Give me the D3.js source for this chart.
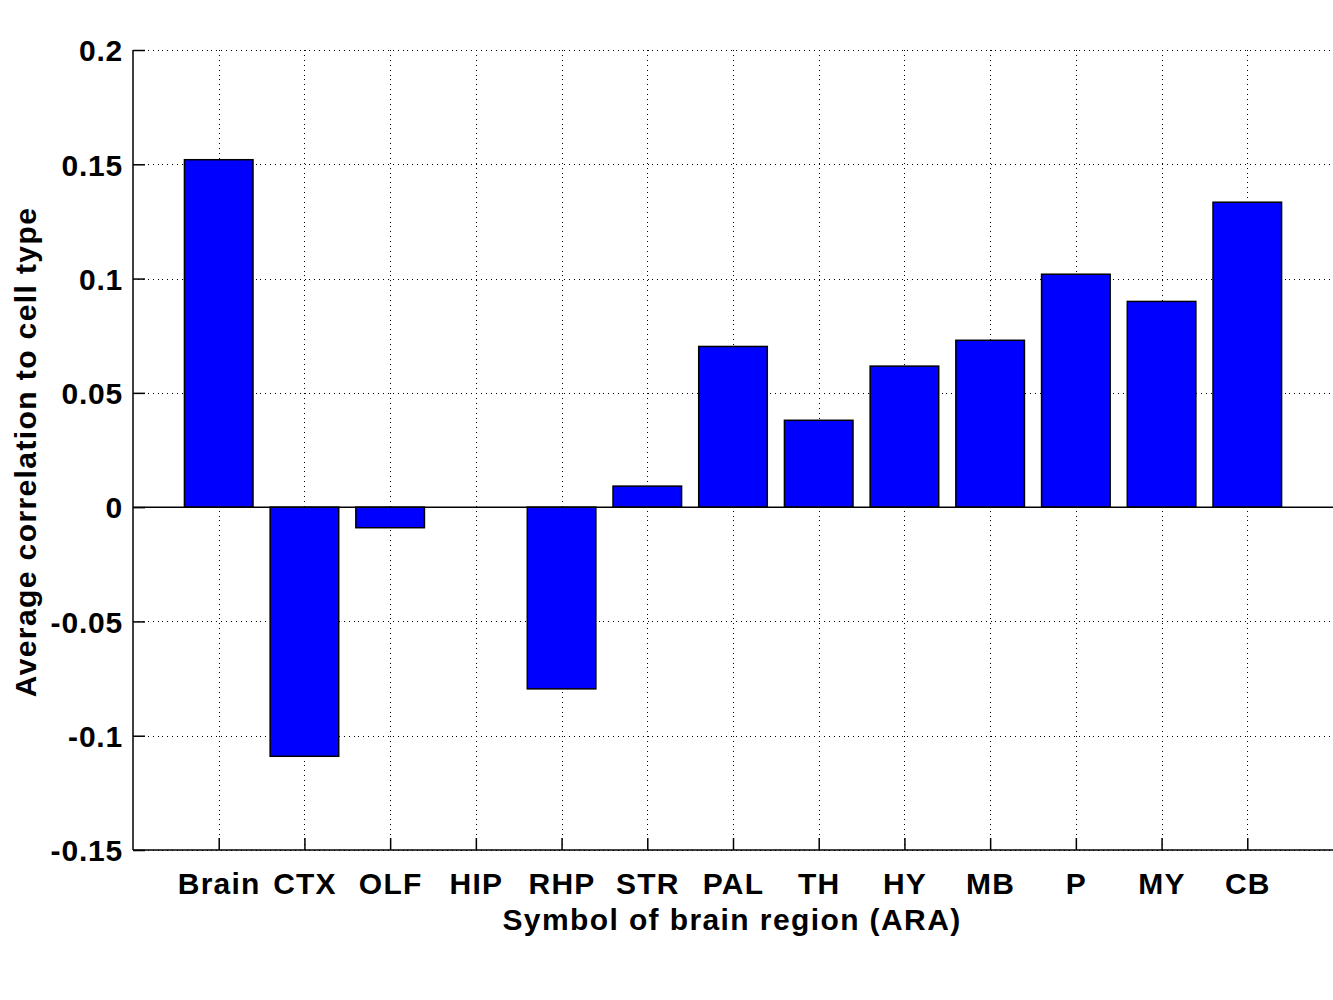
<!DOCTYPE html>
<html>
<head>
<meta charset="utf-8">
<script src="https://cdn.jsdelivr.net/npm/d3@7"></script>
<style>
  html, body { margin: 0; padding: 0; background: #fff; }
  svg text { font-family: "Liberation Sans", Arial, Helvetica, sans-serif; font-weight: bold; }
</style>
</head>
<body>
<svg id="chart" width="1333" height="1000"></svg>
<script>
const categories = ["Brain", "CTX", "OLF", "HIP", "RHP", "STR", "PAL", "TH", "HY", "MB", "P", "MY", "CB"];
const values = [0.152, -0.109, -0.009, 0.0, -0.0795, 0.0092, 0.0703, 0.038, 0.0617, 0.0730, 0.1019, 0.0900, 0.1334];
const yTicks = [-0.15, -0.1, -0.05, 0, 0.05, 0.1, 0.15, 0.2];
const yTickLabels = ["-0.15", "-0.1", "-0.05", "0", "0.05", "0.1", "0.15", "0.2"];
const xTitle = "Symbol of brain region (ARA)";
const yTitle = "Average correlation to cell type";

(function () {
const svg = d3.select("#chart");
const pLeft = 133, pRight = 1333, pTop = 50, pBottom = 850;
const fs = 30, ls = "1.2px";

const x = d3.scaleLinear().domain([0, categories.length + 1]).range([pLeft, pRight]);
const y = d3.scaleLinear().domain([-0.15, 0.2]).range([pBottom, pTop]);
const barW = (x(0.8) - x(0));

// grid
const grid = svg.append("g").attr("stroke", "#000").attr("stroke-width", 1)
  .attr("stroke-dasharray", "1,3.9").attr("shape-rendering", "crispEdges");
grid.selectAll("line.h").data(yTicks).join("line").attr("class", "h")
  .attr("x1", pLeft).attr("x2", pRight)
  .attr("y1", d => Math.round(y(d)) + 0.5).attr("y2", d => Math.round(y(d)) + 0.5);
grid.selectAll("line.v").data(categories).join("line").attr("class", "v")
  .attr("x1", (d, i) => Math.round(x(i + 1)) + 0.5).attr("x2", (d, i) => Math.round(x(i + 1)) + 0.5)
  .attr("y1", pTop).attr("y2", pBottom);

// bars
svg.append("g").selectAll("rect").data(values).join("rect")
  .attr("x", (d, i) => x(i + 1) - barW / 2)
  .attr("width", barW)
  .attr("y", d => y(Math.max(0, d)))
  .attr("height", d => Math.abs(y(d) - y(0)))
  .attr("fill", "#0000ff")
  .attr("stroke", "#000")
  .attr("stroke-width", 1.5);

// zero baseline
svg.append("line")
  .attr("x1", pLeft).attr("x2", pRight)
  .attr("y1", y(0)).attr("y2", y(0))
  .attr("stroke", "#000").attr("stroke-width", 1.5);

// y axis
const yAxis = d3.axisLeft(y).tickValues(yTicks).tickSize(-12).tickPadding(10)
  .tickFormat((d, i) => yTickLabels[i]);
const gy = svg.append("g").attr("transform", `translate(${pLeft},0)`).call(yAxis);
gy.select(".domain").attr("stroke-width", 1.5).attr("d", `M0,${pBottom}V${pTop}`);
gy.selectAll(".tick line").attr("stroke-width", 1.5);
gy.selectAll(".tick text").attr("font-size", fs).attr("letter-spacing", "0.8px")
  .attr("fill", "#000").attr("dy", "0.36em");

// x axis
const xAxis = d3.axisBottom(x).tickValues(d3.range(1, categories.length + 1)).tickSize(-12).tickPadding(30)
  .tickFormat(d => categories[d - 1]);
const gx = svg.append("g").attr("transform", `translate(0,${pBottom})`).call(xAxis);
gx.select(".domain").attr("stroke-width", 1.5).attr("d", `M${pLeft},0H${pRight}`);
gx.selectAll(".tick line").attr("stroke-width", 1.5);
gx.selectAll(".tick text").attr("font-size", fs).attr("letter-spacing", ls)
  .attr("fill", "#000").attr("dy", "0").attr("y", 44);

// titles
svg.append("text").attr("x", (pLeft + pRight) / 2 - 1).attr("y", 930)
  .attr("text-anchor", "middle").attr("font-size", fs).attr("letter-spacing", "1.4px").text(xTitle);
svg.append("text").attr("transform", `translate(36,${(pTop + pBottom) / 2 + 2}) rotate(-90)`)
  .attr("text-anchor", "middle").attr("font-size", fs).attr("letter-spacing", "1.4px").text(yTitle);
})();
</script>
</body>
</html>
